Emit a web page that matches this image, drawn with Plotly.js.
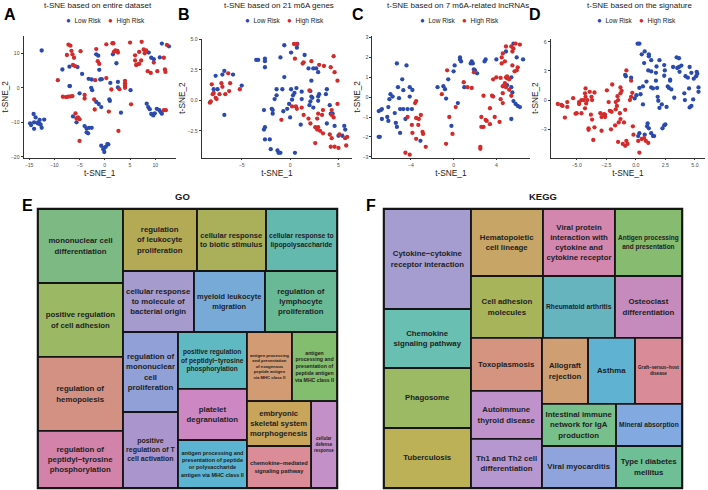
<!DOCTYPE html>
<html>
<head>
<meta charset="utf-8">
<script src="https://cdn.plot.ly/plotly-3.0.1.min.js"></script>
<style>html,body{margin:0;padding:0;background:#fff}#chart{width:708px;height:490px}</style>
</head>
<body>
<div id="chart"></div>
<script>
// ---------------- DATA ----------------
const riskGroups = ['Low Risk', 'High Risk'];
const riskColors = ['#2a4aad', '#d42a2a'];
const panelLetters = ['A', 'B', 'C', 'D', 'E', 'F'];
const panelTitles = ['t-SNE based on entire dataset', 't-SNE based on 21 m6A genes',
  't-SNE based on 7 m6A-related lncRNAs', 't-SNE based on the signature'];
const xAxisTitle = 't-SNE_1';
const yAxisTitle = 't-SNE_2';

// Panel A: entire dataset
const aLowX = [-12.5,-14.8,-14.6,-14.1,-14.0,-13.7,-14.0,-13.2,-12.9,-12.9,-12.7,-12.5,-12.0,-13.3,-8.4,-7.0,-7.0,-6.9,-5.4,-4.5,-5.0,-6.3,-5.6,-4.0,-3.6,-3.6,-3.3,-3.1,-2.6,-3.2,-2.6,-2.7,-2.5,-1.7,-1.3,-1.1,-0.9,-0.6,-1.7,-1.2,-0.7,-0.7,-0.3,-0.1,0.2,0.5,0.7,-0.1,0.9,1.0,1.1,1.6,2.3,2.6,2.6,3.2,5.1,8.3,8.6,8.9,9.2,9.6,9.9,10.3,10.8,11.1,11.3,8.7,9.2,10.9,11.3,12.7,9.7];
const aLowY = [10.8,-10.3,-10.8,-7.6,-10.0,-8.6,-11.9,-10.0,-9.3,-10.5,-10.7,-11.6,-9.2,-10.3,5.3,6.1,0.5,0.5,6.0,4.0,-1.6,-8.3,-10.0,-11.1,-11.8,-12.9,-13.2,-11.6,-11.6,2.6,2.4,0.0,-0.7,9.7,9.3,5.2,2.4,2.5,-4.1,-4.7,-5.6,-16.8,-17.8,-18.6,-17.1,-16.3,-16.4,-17.4,-3.4,-3.8,1.4,9.7,7.1,1.7,0.1,-7.2,-0.7,-4.6,-5.6,-6.2,-7.6,-8.0,-7.4,-6.1,-6.5,-7.1,-7.5,10.2,8.7,8.8,12.8,12.0,8.3];
const aHighX = [-9.3,-8.3,-7.7,-7.3,-6.8,-6.4,-7.5,-7.2,-6.8,-6.6,-6.4,-6.1,-6.3,-4.8,-5.9,-5.8,-5.6,-5.3,-5.0,-4.0,-4.0,-5.0,-2.0,-1.7,-1.4,-1.1,-1.9,-2.1,0.3,0.3,1.5,1.7,1.8,2.1,2.5,2.6,4.0,4.0,4.0,4.0,2.9,2.7,5.0,5.2,6.0,6.2,6.5,6.8,7.2,6.0,6.8,7.3,7.9,8.2,8.5,9.1,9.7,10.4,11.7,11.9,12.0,12.3,11.7,12.1,7.7,0.8,1.3];
const aHighY = [2.2,-2.6,-2.7,-2.6,-2.5,-2.4,9.5,12.5,12.2,10.7,9.7,8.7,6.6,10.6,6.3,-7.4,-8.9,-8.6,-9.1,-2.1,-3.1,-15.4,-6.3,11.2,7.7,6.9,2.2,-3.4,2.8,12.6,12.9,12.9,10.4,10.8,10.7,10.2,2.0,1.3,0.6,0.0,-0.4,-12.5,13.1,-4.8,7.9,6.6,6.8,6.9,7.9,9.4,10.4,13.3,10.0,10.8,4.8,4.3,7.3,4.8,8.7,5.3,4.6,12.4,-6.5,-6.5,11.1,-6.9,-0.5];

// Panel B: 21 m6A genes
const bLowX = [-7.7,-6.8,-7.0,-5.9,-7.9,-7.5,-5.0,-6.8,-3.5,-3.3,-2.6,-2.6,-2.6,-1.0,-0.6,0.1,0.7,0.75,1.5,-0.6,-2.7,-1.9,-1.8,-1.8,-1.4,-0.8,-1.4,-1.6,-0.7,-0.3,-0.1,0.2,0.3,0.45,0.1,0.65,1.2,1.2,0.0,-2.6,-2.7,-2.1,-2.6,-2.0,-1.3,-1.2,-1.0,0.5,2.2,1.9,2.4,2.7,2.1,2.2,2.3,2.1,2.0,2.4,2.9,2.9,3.0,3.8,3.7,4.1,4.2,4.4,3.8,4.6,5.0,5.4,5.6,5.7,1.1,2.9];
const bLowY = [2.0,2.4,2.1,2.1,0.9,0.9,1.2,-1.2,3.3,3.3,3.4,3.2,2.7,3.5,4.5,3.9,4.3,4.6,3.7,1.9,-0.8,-0.7,-0.8,-1.1,0.9,0.9,0.4,0.1,-0.9,-0.7,-0.3,0.05,0.4,0.6,0.9,1.0,0.1,0.7,-1.4,-2.2,-2.4,-3.2,-3.2,-4.0,-4.1,-4.3,-4.3,-4.3,1.6,2.6,2.6,2.6,0.75,0.3,0.2,-0.1,-0.4,-0.6,0.3,-0.05,0.5,0.9,0.5,-0.4,-1.1,-1.1,-1.9,-2.1,-2.9,-2.9,-2.1,-2.4,-2.0,2.3];
const bHighX = [-8.3,-8.2,-8.1,-8.0,-7.9,-7.7,-7.6,-7.3,-7.1,-7.0,-6.7,-6.4,-6.2,-6.3,-5.2,0.4,0.7,0.5,1.3,1.4,2.2,3.0,3.5,4.2,4.6,4.5,4.9,2.0,-0.9,0.2,0.6,0.7,1.4,1.9,2.1,2.8,2.9,3.3,3.4,4.3,4.3,4.5,4.9,2.6,2.9,2.8,3.1,3.4,4.1,4.3,2.6,4.2,4.6,5.0,5.1,5.7,5.9,5.8,1.2];
const bHighY = [-0.2,-0.1,1.3,0.5,0.6,0.2,0.1,0.5,1.4,1.1,0.5,2.2,1.4,0.75,0.9,4.6,4.6,3.4,3.0,3.1,3.2,2.9,2.8,2.7,2.3,3.6,1.6,0.8,-1.6,-0.5,-0.5,-0.7,-1.2,-1.5,-1.9,-1.5,-1.1,-1.2,-0.8,-0.8,-1.2,-1.4,-0.3,-2.2,-2.2,-2.4,-2.5,-2.7,-2.8,-3.1,-3.5,-3.8,-3.8,-3.9,-2.8,-3.1,-3.0,-3.7,-0.6];

// Panel C: 7 m6A-related lncRNAs
const cLowX = [-7.0,-6.9,-7.0,-6.8,-6.7,-6.7,-6.1,-6.0,-6.2,-6.1,-5.9,-5.7,-5.5,-5.4,-5.3,-5.3,-5.2,-5.1,-5.0,-5.0,-4.8,-4.7,-4.7,-4.5,-4.4,-4.3,-4.1,-4.1,-3.9,-3.85,-3.1,-0.2,-1.5,-0.95,-0.8,-0.7,-0.5,0.0,0.1,0.4,0.6,0.6,0.7,1.0,1.6,1.7,1.8,1.9,2.0,2.2,2.9,3.0,4.0,4.9,5.4,5.4,5.5,5.6,5.8,6.0,6.2,5.4,5.9,6.5,5.6,5.0];
const cLowY = [-2.0,-2.0,-0.7,-0.65,-0.6,-1.1,-0.5,-0.1,-1.0,-1.2,0.15,0.03,-0.8,-1.3,-1.5,1.7,0.5,-0.05,-0.6,-1.8,0.9,0.35,-0.6,-1.1,1.6,-0.6,0.03,0.5,-0.6,0.36,-2.2,-1.45,0.5,0.55,0.4,-0.07,0.9,1.3,1.6,-0.3,2.0,1.9,1.8,0.5,1.7,1.8,1.7,1.4,1.35,1.2,1.8,1.9,1.9,2.3,1.0,0.5,0.24,-0.2,-0.34,-0.44,-0.5,-1.1,2.0,1.9,2.7,0.6];
const cHighX = [-4.5,-4.1,-3.6,-3.5,-4.3,-3.9,-3.85,-3.5,-3.3,-3.25,-3.5,-3.06,-2.9,-2.85,-2.6,-0.6,-1.1,-0.4,-0.7,-0.1,0.2,0.95,1.3,1.7,1.9,2.5,2.5,2.6,2.6,2.8,2.8,3.0,3.1,3.4,3.4,3.6,3.7,3.7,3.85,4.0,4.4,4.3,4.5,4.5,4.6,4.8,4.6,4.8,4.9,5.0,4.6,4.9,5.0,5.2,5.2,5.4,5.4,5.5,5.6,5.7,5.9,6.0,5.5,5.8,6.2,4.9,4.4,4.6];
const cHighY = [-2.8,-2.9,-0.3,-0.2,-1.0,-1.4,-1.8,-1.05,-1.4,-1.1,-2.1,-0.9,-1.75,-1.85,-2.5,1.35,0.15,-1.0,-2.35,-1.85,-0.5,0.75,0.5,0.46,1.25,-2.5,-2.6,-1.0,-1.5,-1.5,0.07,-1.15,-1.2,-0.56,-1.36,0.07,0.03,0.9,-1.0,1.0,0.97,-1.25,1.7,2.0,2.2,1.8,0.55,0.7,0.5,0.95,0.2,1.0,1.05,0.9,0.37,0.07,2.55,2.3,2.45,1.3,1.35,1.5,1.6,2.7,2.65,2.55,-0.1,-0.3];

// Panel D: the signature
const dLowX = [0.15,0.3,0.5,0.75,1.1,1.3,1.1,0.7,0.9,1.05,1.3,1.7,1.75,1.3,1.45,1.7,1.8,0.6,0.3,0.05,-0.1,0.4,0.6,-0.9,-0.85,-0.4,1.85,1.9,2.0,2.4,2.45,2.4,2.0,2.2,2.6,2.7,2.8,2.9,2.9,3.0,3.15,3.5,3.65,3.45,3.65,3.25,3.7,3.85,4.1,4.15,4.2,4.4,4.5,4.55,4.7,4.9,5.1,5.15,5.2,5.3,4.55,4.7,4.85,5.3,1.0,1.1,1.3,1.45,1.55,0.95,0.75,0.3,0.2,2.25,2.4,2.5];
const dLowY = [5.8,5.8,4.7,5.0,4.5,4.1,4.7,3.8,1.9,3.05,2.95,2.8,3.45,1.3,1.2,2.0,1.25,1.4,1.25,0.5,0.17,0.6,-0.45,2.6,2.45,2.3,0.34,-0.07,4.1,3.6,3.05,2.5,-0.8,-0.45,-0.7,1.4,1.25,2.1,2.0,1.1,3.4,3.3,3.4,4.4,4.3,0.24,2.9,3.55,0.7,0.0,2.45,2.3,1.2,3.4,2.8,2.2,2.45,2.9,2.7,1.3,-0.75,-0.6,0.07,0.85,-2.4,-2.9,-3.4,-3.7,-3.7,-2.7,-3.55,-3.4,-3.7,-2.9,-2.6,-2.5];
const dHighX = [-6.6,-6.3,-6.2,-6.0,-5.8,-5.8,-5.3,-5.1,-5.0,-4.8,-4.8,-4.6,-4.4,-4.6,-4.25,-4.3,-4.25,-4.2,-4.3,-4.1,-3.9,-3.75,-3.7,-3.8,-3.7,-4.0,-4.0,-3.6,-3.5,-3.5,-3.0,-2.9,-2.7,-2.6,-2.6,-2.9,-2.45,-2.3,-2.2,-2.1,-2.05,-2.0,-1.7,-1.6,-1.7,-1.5,-1.55,-1.75,-1.45,-1.35,-1.3,-1.3,-1.2,-1.3,-1.0,-0.9,-1.5,-1.1,-0.9,-0.7,-0.8,-0.8,-0.4,-0.3,-0.4,-0.5,-0.25,-0.2,0.2,0.3,0.5,0.7,0.85,1.05];
const dHighY = [-0.4,-0.5,-0.6,-1.8,-0.2,-0.7,0.2,-1.4,-1.35,-0.2,-0.4,0.0,0.0,-1.35,1.2,0.7,0.34,-0.34,-0.85,0.0,0.85,0.34,0.0,-1.5,-2.0,-2.9,-3.05,-4.1,-2.8,0.78,-1.35,-1.75,-1.45,-1.75,-1.5,-3.15,1.0,-0.2,-1.1,-3.0,-1.2,1.6,-0.2,-0.6,-0.95,0.0,0.4,-2.6,-2.3,-1.35,-1.95,1.3,0.95,0.7,-2.3,-1.0,-4.3,-4.5,-4.7,-4.5,-4.2,3.05,2.0,0.75,0.34,0.0,-2.7,-3.55,-4.2,-5.4,-4.0,-3.9,-4.2,-4.4];

// GO treemap (panel E)
const goTitle = 'GO';
const goGroupIds     = ['GO','gA','gB','gB1','gB2','gB3','gB3a','gB3b','gB3c','gB3c1','gB3c2','gB3c2a'];
const goGroupParents = ['',  'GO','GO','gB', 'gB', 'gB', 'gB3', 'gB3', 'gB3', 'gB3c', 'gB3c', 'gB3c2'];
const goTerms = [
  'mononuclear cell differentiation','positive regulation of cell adhesion','regulation of hemopoiesis',
  'regulation of peptidyl−tyrosine phosphorylation',
  'regulation of leukocyte proliferation','cellular response to biotic stimulus','cellular response to lipopolysaccharide',
  'cellular response to molecule of bacterial origin','myeloid leukocyte migration','regulation of lymphocyte proliferation',
  'regulation of mononuclear cell proliferation','positive regulation of T cell activation',
  'positive regulation of peptidyl−tyrosine phosphorylation','platelet degranulation',
  'antigen processing and presentation of peptide or polysaccharide antigen via MHC class II',
  'antigen processing and presentation of exogenous peptide antigen via MHC class II',
  'antigen processing and presentation of peptide antigen via MHC class II',
  'embryonic skeletal system morphogenesis','chemokine−mediated signaling pathway','cellular defense response'];
const goTermParents = ['gA','gA','gA','gA','gB1','gB1','gB1','gB2','gB2','gB2','gB3a','gB3a','gB3b','gB3b','gB3b','gB3c1','gB3c1','gB3c2a','gB3c2a','gB3c2'];
const goScores = [62.9,62.9,62.9,48.5,45.9,42.8,44.0,43.3,43.3,43.9,44.0,41.8,39.3,35.2,33.1,31.1,31.1,28.8,26.9,22.6];
const goLabelText = [
  'mononuclear cell<br>differentiation','positive regulation<br>of cell adhesion','regulation of<br>hemopoiesis',
  'regulation of<br>peptidyl−tyrosine<br>phosphorylation',
  'regulation<br>of leukocyte<br>proliferation','cellular response<br>to biotic stimulus','cellular response to<br>lipopolysaccharide',
  'cellular response<br>to molecule of<br>bacterial origin','myeloid leukocyte<br>migration','regulation of<br>lymphocyte<br>proliferation',
  'regulation of<br>mononuclear<br>cell<br>proliferation','positive<br>regulation of T<br>cell activation',
  'positive regulation<br>of peptidyl−tyrosine<br>phosphorylation','platelet<br>degranulation',
  'antigen processing and<br>presentation of peptide<br>or polysaccharide<br>antigen via MHC class II',
  'antigen processing<br>and presentation<br>of exogenous<br>peptide antigen<br>via MHC class II',
  'antigen<br>processing and<br>presentation of<br>peptide antigen<br>via MHC class II',
  'embryonic<br>skeletal system<br>morphogenesis','chemokine−mediated<br>signaling pathway','cellular<br>defense<br>response'];
const goColors = ['#7db982','#9bb964','#d29182','#d382aa','#b4aa55','#aaaf5a','#64b9af','#a59bcd','#78aad7','#69b996',
  '#91a0d7','#aa96cd','#5fb9c3','#cd87c3','#5ab4d2','#d29b73','#82be6e','#c8a55a','#dc8c96','#c391c8'];

// KEGG treemap (panel F)
const keggTitle = 'KEGG';
const keggGroupIds     = ['KEGG','kA','kB','kB1','kB1a','kB1b','kB1c','kB2','kB2a','kB2b','kB2b1','kB2b2','kB2b3'];
const keggGroupParents = ['',    'KEGG','KEGG','kB','kB1','kB1','kB1','kB','kB2','kB2','kB2b','kB2b','kB2b'];
const keggTerms = ['Cytokine−cytokine receptor interaction','Chemokine signaling pathway','Phagosome','Tuberculosis',
  'Hematopoietic cell lineage','Cell adhesion molecules',
  'Viral protein interaction with cytokine and cytokine receptor','Rheumatoid arthritis',
  'Antigen processing and presentation','Osteoclast differentiation',
  'Toxoplasmosis','Autoimmune thyroid disease','Th1 and Th2 cell differentiation',
  'Allograft rejection','Asthma','Graft−versus−host disease',
  'Intestinal immune network for IgA production','Mineral absorption',
  'Viral myocarditis','Type I diabetes mellitus'];
const keggTermParents = ['kA','kA','kA','kA','kB1a','kB1a','kB1b','kB1b','kB1c','kB1c','kB2a','kB2a','kB2a',
  'kB2b1','kB2b1','kB2b1','kB2b2','kB2b2','kB2b3','kB2b3'];
const keggScores = [87.0,51.3,52.2,52.2,48.2,44.6,48.2,44.6,44.9,41.5,37.6,34.1,34.8,30.4,31.0,31.0,31.1,27.7,31.1,27.7];
const keggLabelText = ['Cytokine−cytokine<br>receptor interaction','Chemokine<br>signaling pathway','Phagosome','Tuberculosis',
  'Hematopoietic<br>cell lineage','Cell adhesion<br>molecules',
  'Viral protein<br>interaction with<br>cytokine and<br>cytokine receptor','Rheumatoid arthritis',
  'Antigen processing<br>and presentation','Osteoclast<br>differentiation',
  'Toxoplasmosis','Autoimmune<br>thyroid disease','Th1 and Th2 cell<br>differentiation',
  'Allograft<br>rejection','Asthma','Graft−versus−host<br>disease',
  'Intestinal immune<br>network for IgA<br>production','Mineral absorption',
  'Viral myocarditis','Type I diabetes<br>mellitus'];
const keggColors = ['#a59dd0','#69bfb2','#9bba63','#bcb157','#c6a566','#a8b45a','#d386ae','#66b5be','#87bc70','#c68bbd',
  '#d49480','#bf92cb','#b797cf','#cf9e73','#5fb2d2','#d98c98','#77c08b','#82aae0','#8fa4dc','#6ebf96'];

// ---------------- LAYOUT HELPERS ----------------
const W = 708, H = 490;
const FONT = 'Liberation Sans, Arial, Helvetica, sans-serif';
const fx = p => p / W;
const fy = p => 1 - p / H;

const panels = [
  {lx: aLowX, ly: aLowY, hx: aHighX, hy: aHighY, px: [23.5, 176], py: [36, 157.5], xr: [-16.1, 14.1], yr: [-20.2, 15.0], xd: 5, yd: 10, xf: '', yf: '',
   title: [98, 5], legend: [105, 20.7], letter: [10, 14]},
  {lx: bLowX, ly: bLowY, hx: bHighX, hy: bHighY, px: [201.7, 352], py: [38.5, 157.5], xr: [-9.14, 6.4], yr: [-4.68, 5.05], xd: 5, yd: 2.5, xf: '', yf: '.1f',
   title: [279, 5], legend: [284, 20.7], letter: [184, 14]},
  {lx: cLowX, ly: cLowY, hx: cHighX, hy: cHighY, px: [372.3, 529.5], py: [36, 157.5], xr: [-7.6, 7.1], yr: [-3.04, 3.08], xd: 4, yd: 1, xf: '', yf: '',
   title: [458, 5], legend: [459, 20.7], letter: [358, 14]},
  {lx: dLowX, ly: dLowY, hx: dHighX, hy: dHighY, px: [550.7, 705], py: [38.5, 157.5], xr: [-7.2, 5.85], yr: [-5.9, 6.33], xd: 2.5, yd: 3, xf: '.1f', yf: '',
   title: [640, 5], legend: [636, 20.7], letter: [535, 14]}
];

const traces = [];
const layout = {
  width: W, height: H, autosize: false,
  margin: {l: 0, r: 0, t: 0, b: 0, pad: 0},
  paper_bgcolor: '#ffffff', plot_bgcolor: 'rgba(0,0,0,0)',
  font: {family: FONT, color: '#1a1a1a'},
  showlegend: false,
  annotations: []
};

function ann(text, x, y, size, opts) {
  return Object.assign({text: text, x: fx(x), y: fy(y), xref: 'paper', yref: 'paper', showarrow: false,
    xanchor: 'center', yanchor: 'middle', font: {family: FONT, size: size, color: '#1a1a1a'}}, opts || {});
}

panels.forEach((p, i) => {
  const sfx = i === 0 ? '' : String(i + 1);
  [[p.lx, p.ly, 0], [p.hx, p.hy, 1]].forEach(([xs, ys, g]) => {
    traces.push({type: 'scatter', mode: 'markers', x: xs, y: ys, name: riskGroups[g],
      xaxis: 'x' + sfx, yaxis: 'y' + sfx, hoverinfo: 'skip',
      marker: {color: riskColors[g], size: 4.3, line: {width: 0}}});
  });
  const common = {showline: true, linecolor: '#333', linewidth: 0.8, ticks: 'outside', ticklen: 2,
    tickwidth: 0.8, tickcolor: '#333', showgrid: false, zeroline: false, fixedrange: true,
    tickfont: {family: FONT, size: 5.2, color: '#4d4d4d'}, tick0: 0};
  layout['xaxis' + sfx] = Object.assign({}, common, {domain: [fx(p.px[0]), fx(p.px[1])], range: p.xr, dtick: p.xd,
    tickformat: p.xf, anchor: 'y' + sfx,
    title: {text: xAxisTitle, font: {family: FONT, size: 8.3, color: '#1a1a1a'}, standoff: 0}});
  layout['yaxis' + sfx] = Object.assign({}, common, {domain: [fy(p.py[1]), fy(p.py[0])], range: p.yr, dtick: p.yd,
    tickformat: p.yf, anchor: 'x' + sfx,
    title: {text: yAxisTitle, font: {family: FONT, size: 8.3, color: '#1a1a1a'}, standoff: 0}});
  layout.annotations.push(ann(panelTitles[i], p.title[0], p.title[1], 8));
  const nb = '\u00A0';
  const legText = '<span style="color:' + riskColors[0] + ';font-size:8px">●</span>' + nb + nb + riskGroups[0] + nb + nb + nb + nb +
    '<span style="color:' + riskColors[1] + ';font-size:8px">●</span>' + nb + nb + riskGroups[1];
  layout.annotations.push(ann(legText, p.legend[0], p.legend[1], 6.5));
  layout.annotations.push(ann('<b>' + panelLetters[i] + '</b>', p.letter[0], p.letter[1], 16, {font: {family: FONT, size: 16, color: '#000'}}));
});

function treemap(groupIds, groupParents, terms, termParents, scores, text, colors, boxPx) {
  return {
    type: 'treemap',
    ids: groupIds.concat(terms),
    labels: groupIds.concat(terms),
    parents: groupParents.concat(termParents),
    values: groupIds.map(() => 0).concat(scores),
    text: groupIds.map(() => '').concat(text),
    branchvalues: 'remainder',
    sort: false,
    textinfo: 'text',
    textposition: 'middle center',
    textfont: {family: FONT, size: 7.8, color: '#222222', weight: 'bold'},
    hoverinfo: 'skip',
    tiling: {packing: 'slice-dice', pad: 0},
    pathbar: {visible: false},
    leaf: {opacity: 1},
    marker: {
      colors: groupIds.map(() => 'rgba(0,0,0,0)').concat(colors),
      depthfade: false,
      pad: {t: 0, l: 0, r: 0, b: 0},
      line: {color: '#151515', width: groupIds.map((g, k) => k === 0 ? 2.5 : 0).concat(terms.map(() => 1.8))}
    },
    domain: {x: [fx(boxPx[0]), fx(boxPx[1])], y: [fy(boxPx[3]), fy(boxPx[2])]}
  };
}

traces.push(treemap(goGroupIds, goGroupParents, goTerms, goTermParents, goScores, goLabelText, goColors, [38, 337, 209, 488]));
traces.push(treemap(keggGroupIds, keggGroupParents, keggTerms, keggTermParents, keggScores, keggLabelText, keggColors, [384, 682, 209, 488]));

layout.annotations.push(ann('<b>' + goTitle + '</b>', 182, 197, 9.5));
layout.annotations.push(ann('<b>' + keggTitle + '</b>', 543, 197, 9.5));
layout.annotations.push(ann('<b>' + panelLetters[4] + '</b>', 27, 206, 16, {font: {family: FONT, size: 16, color: '#000'}}));
layout.annotations.push(ann('<b>' + panelLetters[5] + '</b>', 371, 206, 16, {font: {family: FONT, size: 16, color: '#000'}}));

Plotly.newPlot('chart', traces, layout, {displayModeBar: false, responsive: false});
</script>
</body>
</html>
